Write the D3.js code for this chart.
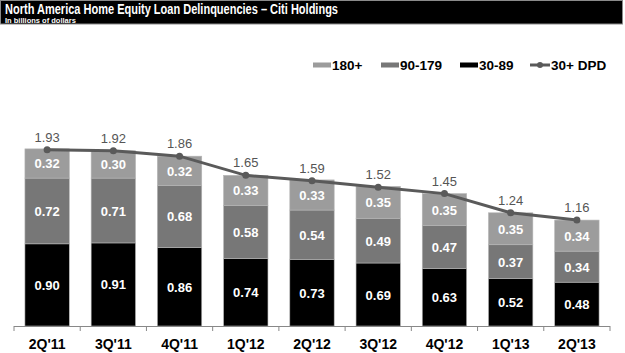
<!DOCTYPE html>
<html>
<head>
<meta charset="utf-8">
<script src="https://cdn.jsdelivr.net/npm/d3@7"></script>
<style>
  body { margin: 0; background: #fff; }
  text { font-family: "Liberation Sans", Arial, sans-serif; }
</style>
</head>
<body>
<div id="chart"></div>
<script>
// quarters and the three delinquency buckets (billions of dollars)
const quarters = ["2Q'11", "3Q'11", "4Q'11", "1Q'12", "2Q'12", "3Q'12", "4Q'12", "1Q'13", "2Q'13"]
const d30_89 = [0.90, 0.91, 0.86, 0.74, 0.73, 0.69, 0.63, 0.52, 0.48]
const d90_179 = [0.72, 0.71, 0.68, 0.58, 0.54, 0.49, 0.47, 0.37, 0.34]
const d180 = [0.32, 0.30, 0.32, 0.33, 0.33, 0.35, 0.35, 0.35, 0.34]
const dpd30 = [1.93, 1.92, 1.86, 1.65, 1.59, 1.52, 1.45, 1.24, 1.16]

const keys = ["d30_89", "d90_179", "d180"]
const colors = { d30_89: "#000000", d90_179: "#777777", d180: "#9c9c9c" }

const config = {
    width: 625,
    height: 353,
    left: 14,
    right: 610,
    base: 326
}

const rows = quarters.map((q, i) => ({
    q: q, d30_89: d30_89[i], d90_179: d90_179[i], d180: d180[i], total: dpd30[i]
}))

const svg = d3.select('#chart')
    .append("svg")
    .attr("width", config.width)
    .attr("height", config.height)

// title band
svg.append("rect")
    .attr("x", 0.5).attr("y", 0.5)
    .attr("width", 622).attr("height", 23.5)
    .attr("fill", "#000")
    .attr("stroke", "#8a8a8a")
svg.append("text")
    .attr("x", 5).attr("y", 13.5)
    .attr("fill", "#fff")
    .attr("font-size", 14.5)
    .attr("font-weight", "bold")
    .attr("textLength", 333)
    .attr("lengthAdjust", "spacingAndGlyphs")
    .text("North America Home Equity Loan Delinquencies – Citi Holdings")
svg.append("text")
    .attr("x", 5).attr("y", 22.5)
    .attr("fill", "#fff")
    .attr("font-size", 7.5)
    .attr("font-weight", "bold")
    .text("In billions  of dollars")

var x = d3.scaleBand()
    .domain(quarters)
    .range([config.left, config.right])
    .paddingInner(0.33)
    .paddingOuter(0.165)

var y = d3.scaleLinear().domain([0, 2]).range([config.base, config.base - 2 * 91.3])

const stack = d3.stack().keys(keys)(rows)

const layers = svg.append("g")
    .selectAll("g")
    .data(stack)
    .enter()
    .append("g")
    .attr("fill", d => colors[d.key])

layers.selectAll("rect")
    .data(d => d)
    .enter()
    .append("rect")
    .attr("x", d => x(d.data.q))
    .attr("width", x.bandwidth())
    .attr("y", d => y(d[1]))
    .attr("height", d => y(d[0]) - y(d[1]))
    .attr("stroke", "#b5b5b5")
    .attr("stroke-width", 0.6)

layers.selectAll("text")
    .data(d => d.map(v => ({ v: v, key: d.key })))
    .enter()
    .append("text")
    .attr("x", d => x(d.v.data.q) + x.bandwidth() / 2)
    .attr("y", d => (y(d.v[0]) + y(d.v[1])) / 2 + 5)
    .attr("text-anchor", "middle")
    .attr("fill", "#fff")
    .attr("font-size", 13)
    .attr("font-weight", "bold")
    .text(d => d.v.data[d.key].toFixed(2))

// axis: labels at band centres, ticks at band edges
const step = x.step()
svg.append("g")
    .attr("transform", `translate(0,${config.base})`)
    .call(d3.axisBottom(x).tickSize(0).tickPadding(13))
    .call(g => g.select(".domain").attr("stroke", "#888").attr("d", `M${config.left},0.5H${config.right}`))
    .call(g => g.selectAll("text")
        .attr("font-family", "Liberation Sans, Arial, sans-serif")
        .attr("font-size", 14)
        .attr("font-weight", "bold")
        .attr("fill", "#000"))

svg.append("g")
    .selectAll("line")
    .data(d3.range(quarters.length + 1))
    .enter()
    .append("line")
    .attr("x1", i => config.left + i * step)
    .attr("x2", i => config.left + i * step)
    .attr("y1", config.base)
    .attr("y2", config.base + 5)
    .attr("stroke", "#888")

// 30+ DPD line
const cx = d => x(d.q) + x.bandwidth() / 2
svg.append("path")
    .datum(rows)
    .attr("fill", "none")
    .attr("stroke", "#5a5a5a")
    .attr("stroke-width", 3)
    .attr("d", d3.line().x(cx).y(d => y(d.total)))

svg.append("g")
    .selectAll("circle")
    .data(rows)
    .enter()
    .append("circle")
    .attr("cx", cx)
    .attr("cy", d => y(d.total))
    .attr("r", 3.5)
    .attr("fill", "#5a5a5a")

svg.append("g")
    .selectAll("text")
    .data(rows)
    .enter()
    .append("text")
    .attr("x", cx)
    .attr("y", d => y(d.total) - 8)
    .attr("text-anchor", "middle")
    .attr("fill", "#555")
    .attr("font-size", 13)
    .text(d => d.total.toFixed(2))

// legend
const legend = [
    { label: "180+", key: "d180", x: 313 },
    { label: "90-179", key: "d90_179", x: 381 },
    { label: "30-89", key: "d30_89", x: 460 }
]
const lg = svg.append("g")
lg.selectAll("rect")
    .data(legend)
    .enter()
    .append("rect")
    .attr("x", d => d.x)
    .attr("y", 62.5)
    .attr("width", 18)
    .attr("height", 5)
    .attr("fill", d => colors[d.key])
lg.selectAll("text")
    .data(legend.concat([{ label: "30+ DPD", x: 532 }]))
    .enter()
    .append("text")
    .attr("x", d => d.x + 19)
    .attr("y", 70)
    .attr("font-size", 13.5)
    .attr("font-weight", "bold")
    .attr("fill", "#000")
    .text(d => d.label)
lg.append("line")
    .attr("x1", 530).attr("x2", 550)
    .attr("y1", 65).attr("y2", 65)
    .attr("stroke", "#5a5a5a")
    .attr("stroke-width", 3)
lg.append("circle")
    .attr("cx", 540).attr("cy", 65).attr("r", 3)
    .attr("fill", "#5a5a5a")
</script>
</body>
</html>
